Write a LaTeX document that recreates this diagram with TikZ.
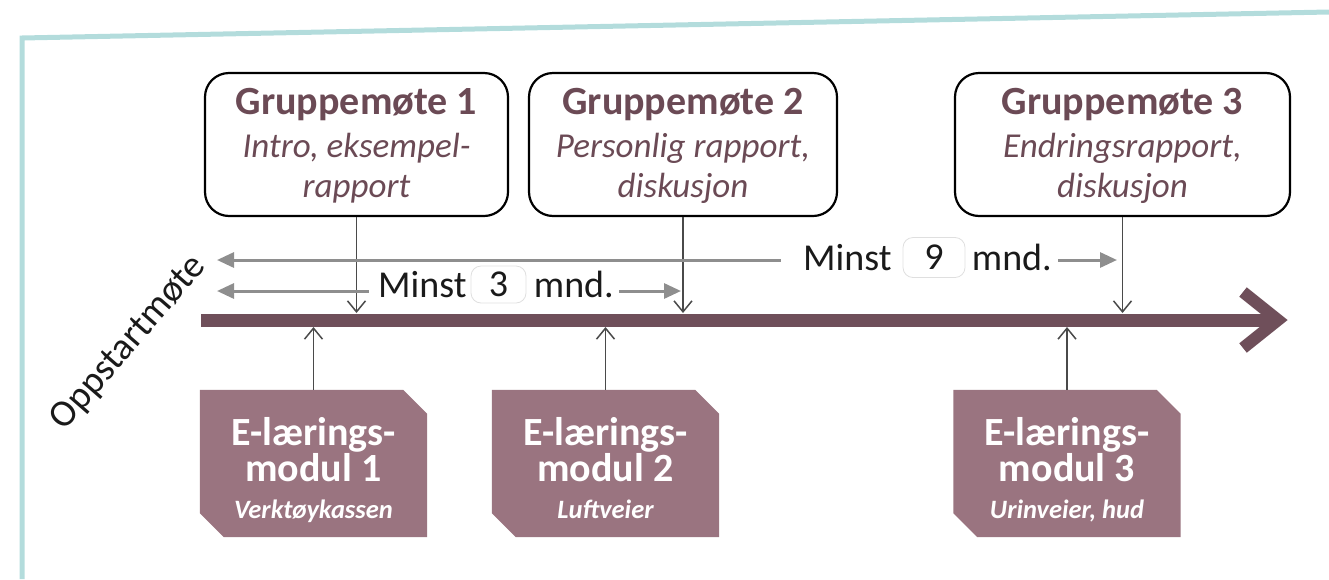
\documentclass[tikz,border=0pt]{standalone}
\usepackage{fontspec}
\setmainfont{Carlito}
\usetikzlibrary{arrows.meta,calc}
\definecolor{frameteal}{HTML}{B3DCDC}
\definecolor{mauve}{HTML}{6B4A55}
\definecolor{barcol}{HTML}{6F4F5A}
\definecolor{efill}{HTML}{9A7480}
\definecolor{spangray}{HTML}{8E8E8E}
\definecolor{tickgray}{HTML}{4A4A4A}
\definecolor{inkblack}{HTML}{1A1A1A}
\begin{document}
\begin{tikzpicture}[x=1pt,y=-1pt,
  frameline/.style={draw=frameteal, line width=5pt},
  gbox/.style={draw=black, line width=2.2pt, rounded corners=24pt, inner sep=0pt, minimum height=143pt},
  gtitle/.style={text=mauve, font=\fontsize{40}{42}\selectfont\bfseries, inner sep=0pt, anchor=base},
  gsub/.style={text=mauve, font=\fontsize{35}{40}\selectfont\itshape, inner sep=0pt, anchor=base},
  ebox/.style={rectangle, draw=none, inner sep=0pt, minimum width=227pt, minimum height=147pt},
  efillshape/.style={fill=efill, draw=none},
  etitle/.style={text=white, font=\fontsize{40}{42}\selectfont\bfseries, inner sep=0pt, anchor=base},
  esub/.style={text=white, font=\fontsize{26.5}{28}\selectfont\bfseries\itshape, inner sep=0pt, anchor=base},
  tick/.style={draw=tickgray, line width=1.5pt, -{Straight Barb[length=11pt,width=18pt]}},
  span/.style={draw=spangray, line width=3pt, >={Triangle[length=17pt,width=15pt]}},
  minst/.style={text=inkblack, font=\fontsize{38}{40}\selectfont, inner sep=0pt},
  numbox/.style={draw=gray!25, line width=0.8pt, rounded corners=10pt, text=inkblack,
    font=\fontsize{38}{40}\selectfont, inner sep=0pt},
  bar/.style={draw=barcol, line width=13pt},
  barhead/.style={draw=barcol, line width=12pt, miter limit=10},
]
\useasboundingbox (0,0) rectangle (1329,579);

% frame
\draw[frameline] (22,579) -- (22,38) -- (1329,12);

% timeline
\coordinate (tl0) at (201,320);
\coordinate (tl1) at (1278,320);
\coordinate (bartop) at (0,313);
\coordinate (barbot) at (0,327);
\draw[bar] (tl0) -- (tl1);
\draw[barhead] (1243,292) -- (tl1) -- (1243,348);

% group meeting boxes
\node[gbox, minimum width=303pt] (g1) at (356.5,144.5) {};
\node[gbox, minimum width=308pt] (g2) at (683,144.5) {};
\node[gbox, minimum width=335pt] (g3) at (1122.5,144.5) {};

\node[gtitle] (g1t) at (356.5,114) {Gruppemøte 1};
\node[gsub] (g1a) at (356.5,157) {Intro, eksempel-};
\node[gsub] (g1b) at (356.5,197) {rapport};

\node[gtitle] (g2t) at (683,114) {Gruppemøte 2};
\node[gsub] (g2a) at (683,157) {Personlig rapport,};
\node[gsub] (g2b) at (683,197) {diskusjon};

\node[gtitle] (g3t) at (1122.5,114) {Gruppemøte 3};
\node[gsub] (g3a) at (1122.5,157) {Endringsrapport,};
\node[gsub] (g3b) at (1122.5,197) {diskusjon};

\draw[tick] (g1.south) -- (g1.south |- bartop);
\draw[tick] (g2.south) -- (g2.south |- bartop);
\draw[tick] (g3.south) -- (g3.south |- bartop);

% e-learning boxes (snipped corners top-right and bottom-left)
\foreach \n/\cx in {e1/313.5, e2/605.5, e3/1067} {
  \node[ebox] (\n) at (\cx,463.5) {};
  \fill[efillshape] (\n.north west) -- ($(\n.north east)+(-24,0)$) -- ($(\n.north east)+(0,24)$)
    -- (\n.south east) -- ($(\n.south west)+(24,0)$) -- ($(\n.south west)+(0,-24)$) -- cycle;
}

\node[etitle] (e1a) at (313.5,445) {E-lærings-};
\node[etitle] (e1b) at (313.5,481) {modul 1};
\node[esub] (e1c) at (313.5,518) {Verktøykassen};

\node[etitle] (e2a) at (605.5,445) {E-lærings-};
\node[etitle] (e2b) at (605.5,481) {modul 2};
\node[esub] (e2c) at (605.5,518) {Luftveier};

\node[etitle] (e3a) at (1067,445) {E-lærings-};
\node[etitle] (e3b) at (1067,481) {modul 3};
\node[esub] (e3c) at (1067,518) {Urinveier, hud};

\draw[tick] (e1.north) -- (e1.north |- barbot);
\draw[tick] (e2.north) -- (e2.north |- barbot);
\draw[tick] (e3.north) -- (e3.north |- barbot);

% span: minst 9 mnd
\coordinate (u0) at (217,260);
\coordinate (u1) at (1117,260);
\node[minst, anchor=base west] (m9) at (803,270) {Minst};
\node[numbox, minimum width=62pt, minimum height=40pt] (n9) at (934,257.5) {9};
\node[minst, anchor=base east] (d9) at (1052,270) {mnd.};
\draw[span, <-] (u0) -- ($(m9.west |- u0)+(-22,0)$);
\draw[span, ->] ($(d9.east |- u1)+(6,0)$) -- (u1);

% span: minst 3 mnd
\coordinate (l0) at (217,291);
\coordinate (l1) at (681,291);
\node[minst, anchor=base west] (m3) at (378,297) {Minst};
\node[numbox, minimum width=55pt, minimum height=37pt] (n3) at (498.5,284.5) {3};
\node[minst, anchor=base east] (d3) at (614,297) {mnd.};
\draw[span, <-] (l0) -- ($(m3.west |- l0)+(-9,0)$);
\draw[span, ->] ($(d3.east |- l1)+(5,0)$) -- (l1);

% start label
\node[minst, font=\fontsize{38}{40}\selectfont, rotate=49] (opp) at (129,343) {Oppstartmøte};
\end{tikzpicture}
\end{document}
